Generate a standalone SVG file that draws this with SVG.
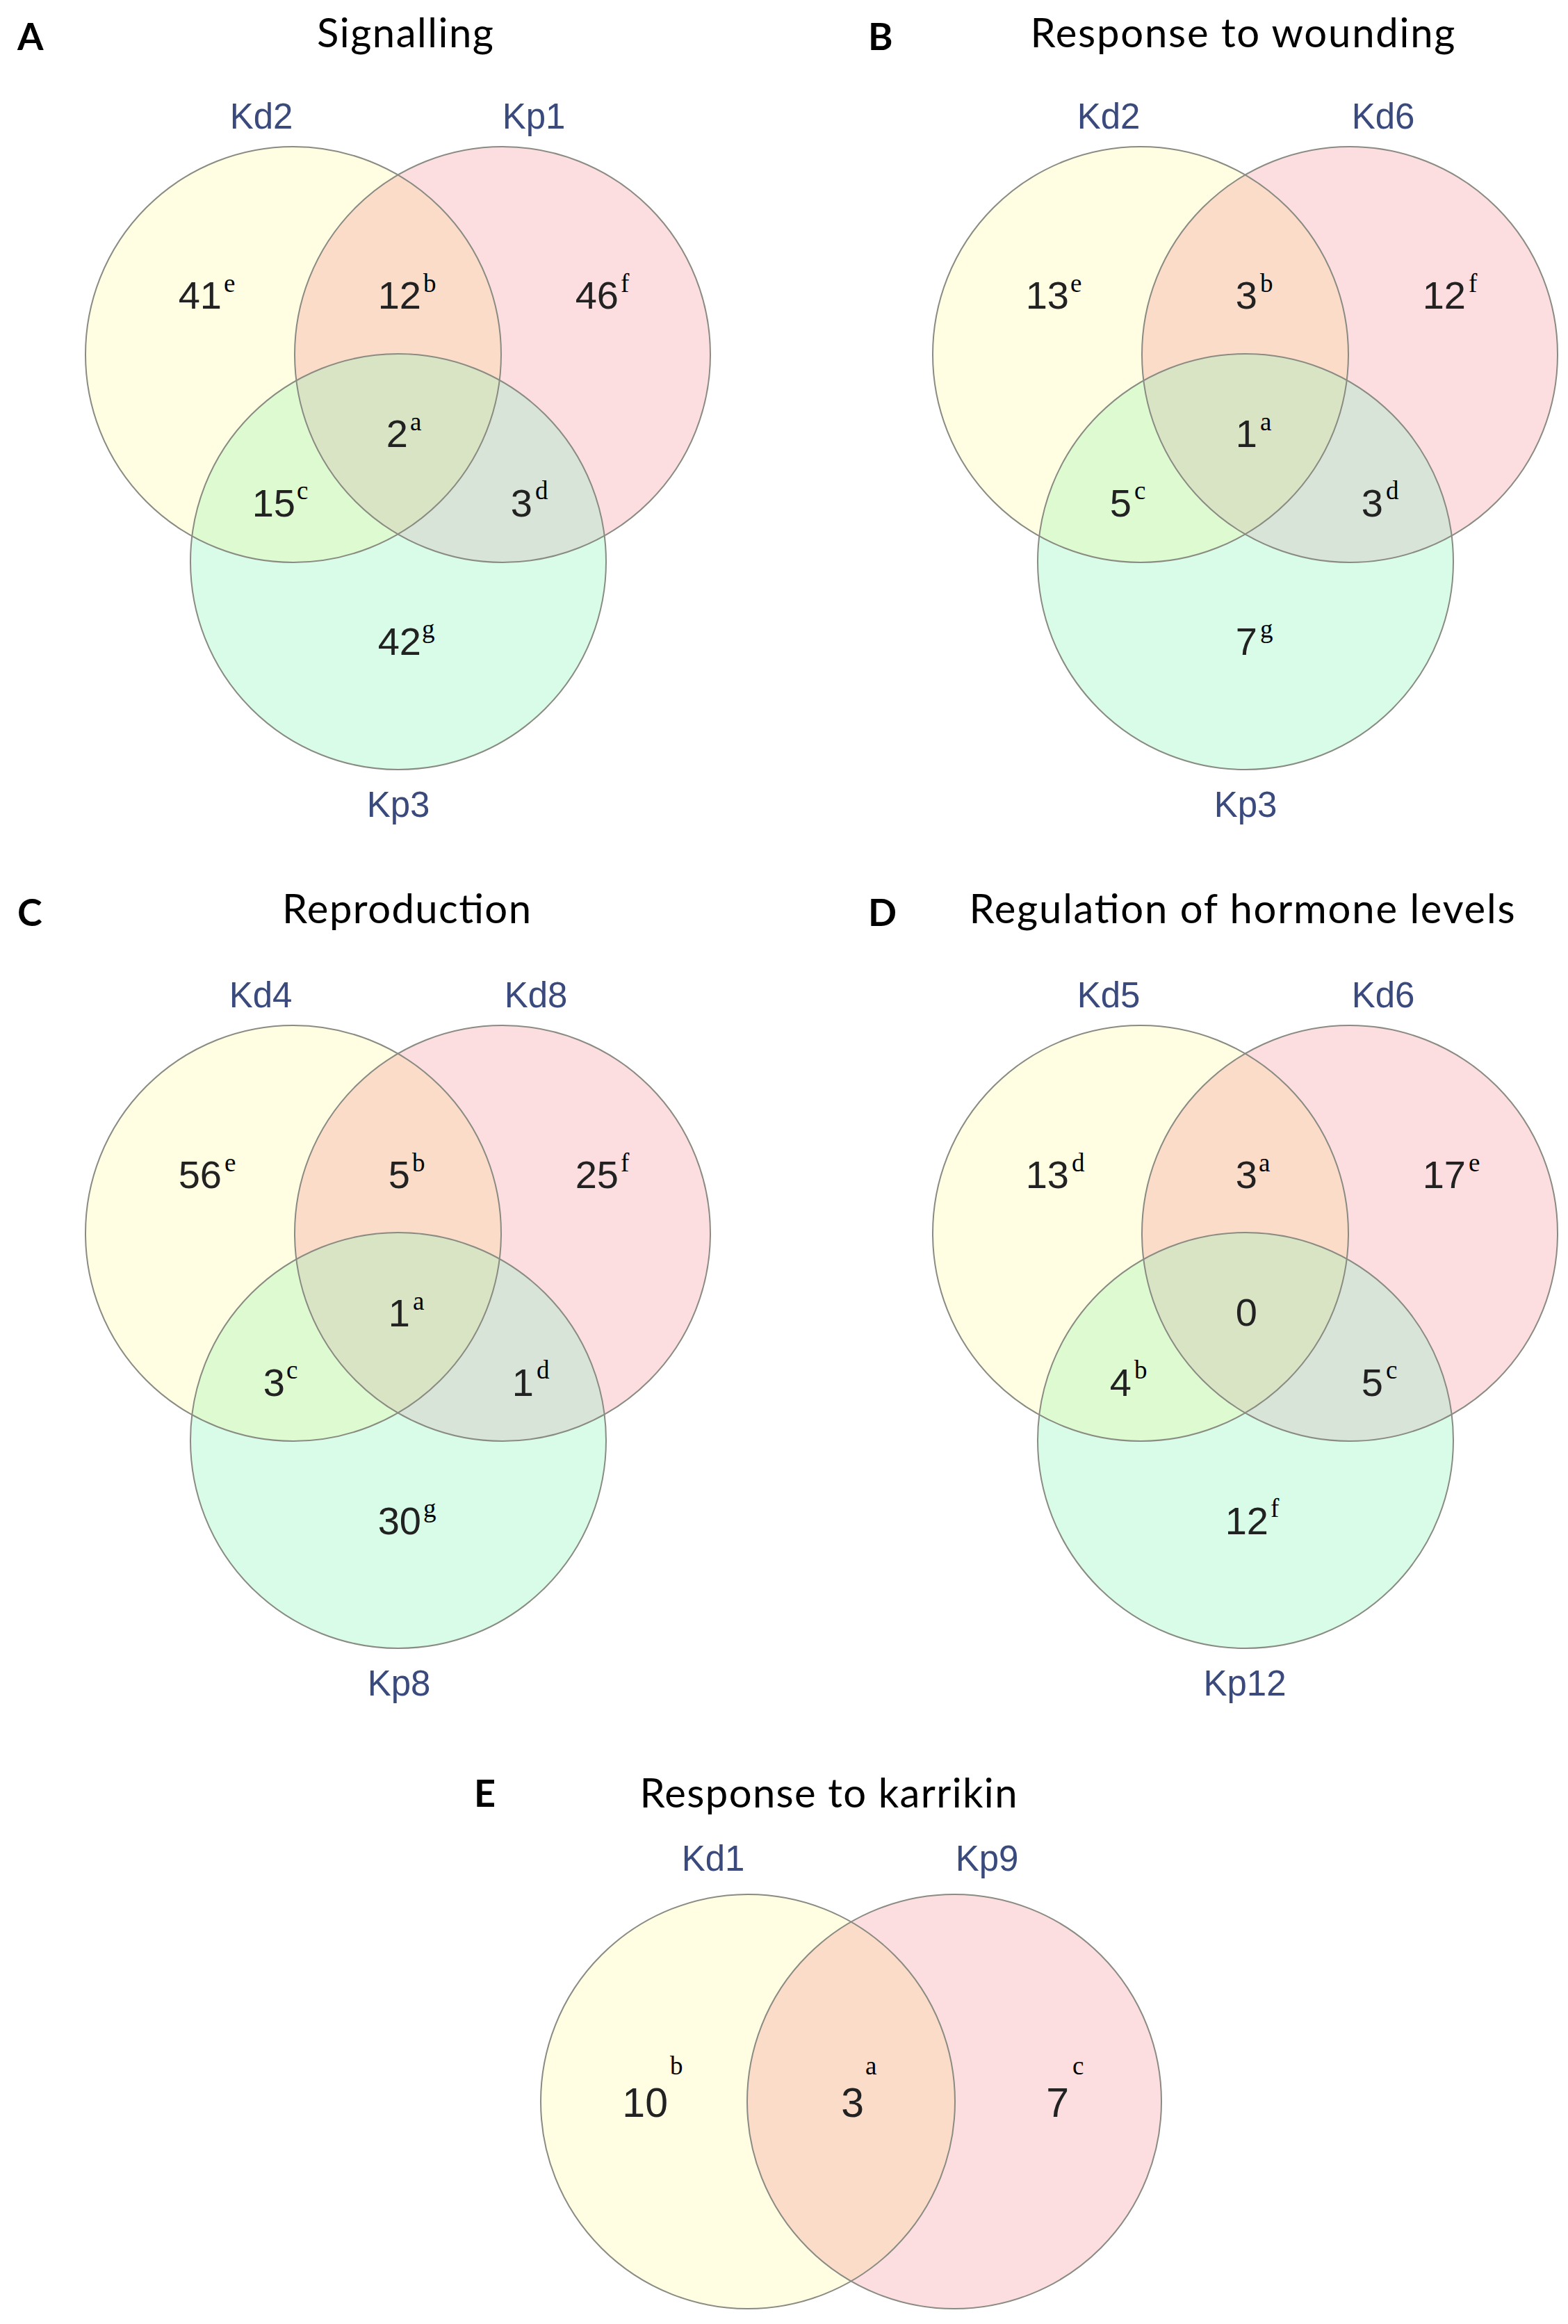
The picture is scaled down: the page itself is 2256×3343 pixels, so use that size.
<svg xmlns="http://www.w3.org/2000/svg" xmlns:xlink="http://www.w3.org/1999/xlink" width="2256" height="3343" viewBox="0 0 2256 3343">
<style>
.fy{fill:#FFFDE2}
.fp{fill:#FCDEE1}
.fg{fill:#D8FCE8}
.fyp{fill:#FBDCC8}
.fyg{fill:#DDFAD0}
.fpg{fill:#D9E4D8}
.fall{fill:#D9E4C4}
.st{fill:none;stroke:#8a8b82;stroke-width:2}
.num{font-family:"Liberation Sans",Arial,sans-serif;font-size:56px;fill:#222;text-anchor:end}
.numE{font-family:"Liberation Sans",Arial,sans-serif;font-size:59px;fill:#222;text-anchor:end}
.sup{font-family:"Liberation Serif","Times New Roman",serif;font-size:37px;fill:#000}
.lab{font-family:"Liberation Sans",Arial,sans-serif;font-size:51px;fill:#3A4A7C;text-anchor:middle}
.ttl{font-family:Lato,"Open Sans",sans-serif;font-size:58px;fill:#000;text-anchor:middle}
.let{font-family:Lato,"Open Sans",sans-serif;font-weight:700;font-size:54px;fill:#000}
</style>
<defs>
<circle id="cY" cx="0" cy="0" r="299"/>
<circle id="cP" cx="301" cy="0" r="299"/>
<circle id="cG" cx="151" cy="298" r="299"/>
<circle id="eY" cx="0" cy="0" r="298"/>
<circle id="eP" cx="297" cy="0" r="298"/>
<clipPath id="clipY"><use xlink:href="#cY"/></clipPath>
<clipPath id="clipP"><use xlink:href="#cP"/></clipPath>
<clipPath id="clipEY"><use xlink:href="#eY"/></clipPath>
<g id="venn3">
<use xlink:href="#cY" class="fy"/>
<use xlink:href="#cP" class="fp"/>
<use xlink:href="#cG" class="fg"/>
<use xlink:href="#cP" class="fyp" clip-path="url(#clipY)"/>
<use xlink:href="#cG" class="fyg" clip-path="url(#clipY)"/>
<use xlink:href="#cG" class="fpg" clip-path="url(#clipP)"/>
<g clip-path="url(#clipY)"><use xlink:href="#cG" class="fall" clip-path="url(#clipP)"/></g>
<use xlink:href="#cY" class="st"/>
<use xlink:href="#cP" class="st"/>
<use xlink:href="#cG" class="st"/>
</g>
</defs>

<g id="panelA">
<text class="let" x="25" y="72">A</text>
<text class="ttl" x="583" y="68" textLength="254">Signalling</text>
<use id="vennA" xlink:href="#venn3" transform="translate(422,510)"/>
<text class="lab" x="376" y="185">Kd2</text>
<text class="lab" x="768" y="185">Kp1</text>
<text class="lab" x="573" y="1175">Kp3</text>
<text class="num" x="319" y="444">41</text><text class="sup" x="322" y="420">e</text>
<text class="num" x="606" y="444">12</text><text class="sup" x="609" y="420">b</text>
<text class="num" x="890" y="444">46</text><text class="sup" x="893" y="420">f</text>
<text class="num" x="587" y="643">2</text><text class="sup" x="590" y="619">a</text>
<text class="num" x="425" y="743">15</text><text class="sup" x="427" y="718">c</text>
<text class="num" x="766" y="743">3</text><text class="sup" x="770" y="718">d</text>
<text class="num" x="606" y="942">42</text><text class="sup" x="607" y="917">g</text>
</g>

<g id="panelB">
<text class="let" x="1249" y="72">B</text>
<text class="ttl" x="1788" y="68" textLength="611">Response to wounding</text>
<use id="vennB" xlink:href="#venn3" transform="translate(1641,510)"/>
<text class="lab" x="1595" y="185">Kd2</text>
<text class="lab" x="1990" y="185">Kd6</text>
<text class="lab" x="1792" y="1175">Kp3</text>
<text class="num" x="1538" y="444">13</text><text class="sup" x="1540" y="420">e</text>
<text class="num" x="1809" y="444">3</text><text class="sup" x="1813" y="420">b</text>
<text class="num" x="2109" y="444">12</text><text class="sup" x="2113" y="420">f</text>
<text class="num" x="1809" y="643">1</text><text class="sup" x="1813" y="619">a</text>
<text class="num" x="1628" y="743">5</text><text class="sup" x="1632" y="718">c</text>
<text class="num" x="1990" y="743">3</text><text class="sup" x="1994" y="718">d</text>
<text class="num" x="1809" y="942">7</text><text class="sup" x="1813" y="917">g</text>
</g>

<g id="panelC">
<text class="let" x="25" y="1332">C</text>
<text class="ttl" x="585" y="1328" textLength="358">Reproduction</text>
<use id="vennC" xlink:href="#venn3" transform="translate(422,1774)"/>
<text class="lab" x="375" y="1449">Kd4</text>
<text class="lab" x="771" y="1449">Kd8</text>
<text class="lab" x="574" y="2439">Kp8</text>
<text class="num" x="319" y="1709">56</text><text class="sup" x="323" y="1685">e</text>
<text class="num" x="590" y="1709">5</text><text class="sup" x="593" y="1685">b</text>
<text class="num" x="890" y="1709">25</text><text class="sup" x="893" y="1685">f</text>
<text class="num" x="590" y="1908">1</text><text class="sup" x="594" y="1884">a</text>
<text class="num" x="410" y="2008">3</text><text class="sup" x="412" y="1983">c</text>
<text class="num" x="768" y="2008">1</text><text class="sup" x="772" y="1983">d</text>
<text class="num" x="606" y="2207">30</text><text class="sup" x="609" y="2182">g</text>
</g>

<g id="panelD">
<text class="let" x="1249" y="1332">D</text>
<text class="ttl" x="1787" y="1328" textLength="785">Regulation of hormone levels</text>
<use id="vennD" xlink:href="#venn3" transform="translate(1641,1774)"/>
<text class="lab" x="1595" y="1449">Kd5</text>
<text class="lab" x="1990" y="1449">Kd6</text>
<text class="lab" x="1791" y="2439">Kp12</text>
<text class="num" x="1538" y="1709">13</text><text class="sup" x="1542" y="1685">d</text>
<text class="num" x="1809" y="1709">3</text><text class="sup" x="1811" y="1685">a</text>
<text class="num" x="2109" y="1709">17</text><text class="sup" x="2113" y="1685">e</text>
<text class="num" x="1809" y="1907">0</text>
<text class="num" x="1628" y="2008">4</text><text class="sup" x="1632" y="1983">b</text>
<text class="num" x="1990" y="2008">5</text><text class="sup" x="1994" y="1983">c</text>
<text class="num" x="1825" y="2207">12</text><text class="sup" x="1828" y="2182">f</text>
</g>

<g id="panelE">
<text class="let" x="682" y="2599">E</text>
<text class="ttl" x="1192" y="2600" textLength="543">Response to karrikin</text>
<g id="vennE" transform="translate(1076,3023)">
<use xlink:href="#eY" class="fy"/>
<use xlink:href="#eP" class="fp"/>
<use xlink:href="#eP" class="fyp" clip-path="url(#clipEY)"/>
<use xlink:href="#eY" class="st"/>
<use xlink:href="#eP" class="st"/>
</g>
<text class="lab" x="1026" y="2691">Kd1</text>
<text class="lab" x="1420" y="2691">Kp9</text>
<text class="numE" x="961" y="3045">10</text><text class="sup" x="964" y="2984">b</text>
<text class="numE" x="1243" y="3045">3</text><text class="sup" x="1245" y="2984">a</text>
<text class="numE" x="1538" y="3045">7</text><text class="sup" x="1543" y="2984">c</text>
</g>
</svg>
